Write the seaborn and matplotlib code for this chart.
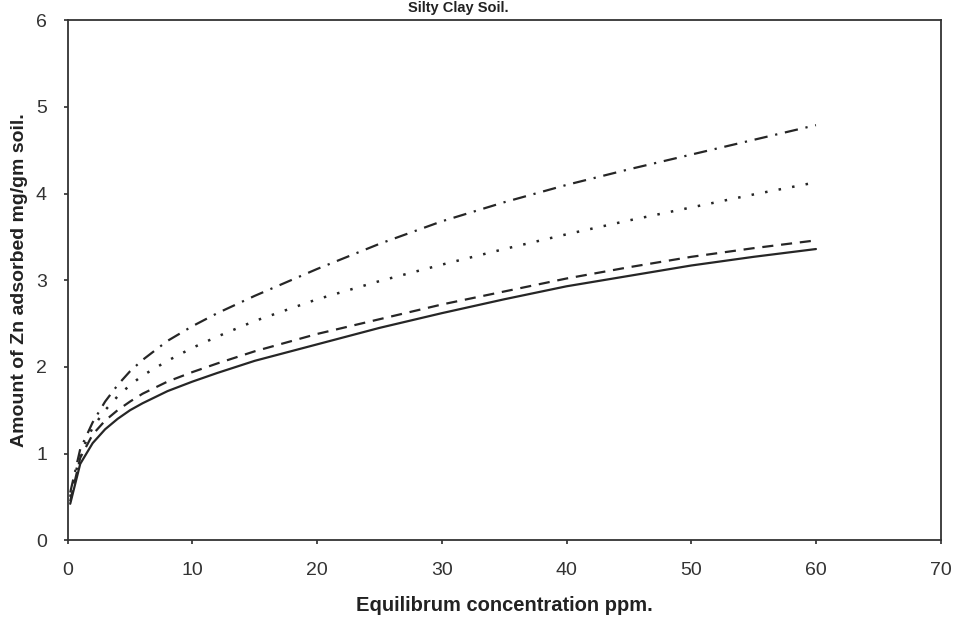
import matplotlib

matplotlib.use("Agg")
import matplotlib.pyplot as plt
import seaborn as sns

# equilibrium concentration (ppm)
conc = [0.2, 1, 2, 3, 4, 5, 6, 8, 10, 12, 15, 20, 25, 30, 35, 40, 45, 50, 55, 60]

# amount of Zn adsorbed (mg/gm soil)
solid_vals = [0.42, 0.88, 1.12, 1.28, 1.40, 1.50, 1.58, 1.72, 1.83, 1.93,
              2.07, 2.26, 2.45, 2.62, 2.78, 2.93, 3.05, 3.17, 3.27, 3.36]
dashed_vals = [0.45, 0.95, 1.22, 1.38, 1.50, 1.60, 1.69, 1.83, 1.94, 2.04,
               2.18, 2.38, 2.55, 2.72, 2.87, 3.02, 3.15, 3.27, 3.37, 3.46]
dotted_vals = [0.50, 1.00, 1.30, 1.50, 1.66, 1.79, 1.90, 2.07, 2.22, 2.35,
               2.53, 2.78, 2.99, 3.18, 3.36, 3.53, 3.69, 3.84, 3.99, 4.13]
dashdot_vals = [0.55, 1.05, 1.36, 1.60, 1.79, 1.95, 2.08, 2.30, 2.47, 2.62,
                2.82, 3.13, 3.42, 3.68, 3.90, 4.10, 4.28, 4.45, 4.62, 4.79]

x_ticks = [0, 10, 20, 30, 40, 50, 60, 70]
y_ticks = [0, 1, 2, 3, 4, 5, 6]

sns.set_theme(style="white")
plt.rcParams["font.family"] = ["Liberation Sans", "DejaVu Sans"]

fig = plt.figure(figsize=(9.54, 6.34), dpi=100)
ax = fig.add_axes([0.071, 0.148, 0.915, 0.82])

ink = "#262626"
sns.lineplot(x=conc, y=solid_vals, ax=ax, color=ink, lw=1.6, linestyle="-")
sns.lineplot(x=conc, y=dashed_vals, ax=ax, color=ink, lw=1.6, linestyle=(0, (5, 3.5)))
sns.lineplot(x=conc, y=dotted_vals, ax=ax, color=ink, lw=1.8, linestyle=(0, (1, 4.5)))
sns.lineplot(x=conc, y=dashdot_vals, ax=ax, color=ink, lw=1.6,
             linestyle=(0, (6, 3.5, 1, 3.5)))

ax.set_xlim(0, 70)
ax.set_ylim(0, 6)
ax.set_xticks(x_ticks)
ax.set_yticks(y_ticks)
ax.tick_params(axis="both", labelsize=14, colors="#333333", length=3,
               direction="out", left=True, bottom=True)
ax.tick_params(axis="x", pad=13)
ax.tick_params(axis="y", pad=12)

for side in ["left", "right", "top", "bottom"]:
    ax.spines[side].set_visible(True)
    ax.spines[side].set_color("#333333")
    ax.spines[side].set_linewidth(1.3)

ax.set_xlabel("Equilibrum concentration ppm.", fontsize=14.5, fontweight="bold",
              color="#222222", labelpad=12)
ax.set_ylabel("Amount of Zn adsorbed mg/gm soil.", fontsize=14, fontweight="bold",
              color="#222222", labelpad=6)

# title sits against the top edge, as in the scan
fig.text(0.48, 0.999, "Silty Clay Soil.", ha="center", va="top",
         fontsize=10.5, fontweight="bold", color="#222222")

fig.savefig("out.png", dpi=100)
plt.close(fig)
